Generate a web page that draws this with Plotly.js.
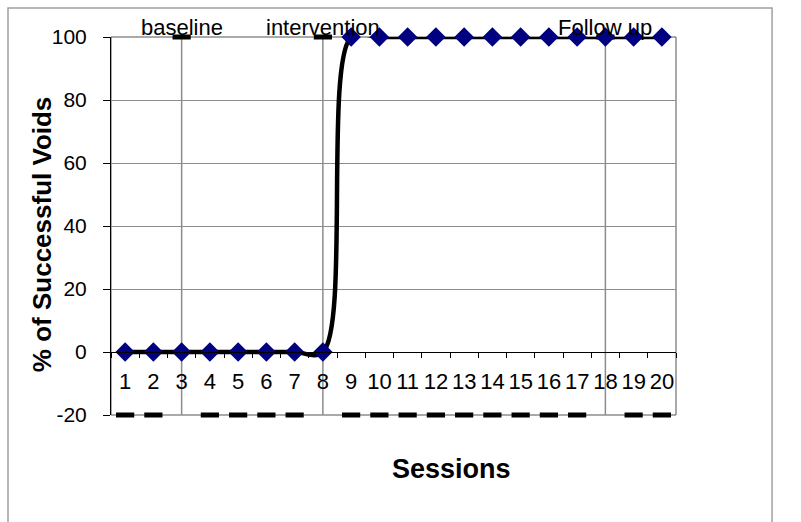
<!DOCTYPE html>
<html>
<head>
<meta charset="utf-8">
<script src="https://cdn.plot.ly/plotly-3.0.1.min.js"></script>
<style>html,body{margin:0;padding:0;background:#fff;}#chart{width:801px;height:522px;}</style>
</head>
<body>
<div id="chart"></div>
<script>
// ---- data ----
const sessions = ['1','2','3','4','5','6','7','8','9','10','11','12','13','14','15','16','17','18','19','20'];
const successPct = [0,0,0,0,0,0,0,0,100,100,100,100,100,100,100,100,100,100,100,100];
// phase-change series: 100 at phase boundaries, -20 elsewhere
const phaseMarks = [-20,-20,100,-20,-20,-20,-20,100,-20,-20,-20,-20,-20,-20,-20,-20,-20,100,-20,-20];
const phaseLabels = ['baseline','intervention','Follow up'];
const phaseLabelSessions = ['3','8','18'];
const yTicks = [-20,0,20,40,60,80,100];
const yTickText = ['-20','0','20','40','60','80','100'];
const xTitle = 'Sessions';
const yTitle = '% of Successful Voids';

const yMin = -20, yMax = 100;
const FONT = 'Liberation Sans, Arial, sans-serif';

const phaseTrace = {
  x: sessions, y: phaseMarks, type: 'scatter', mode: 'markers',
  cliponaxis: false, hoverinfo: 'skip',
  marker: {symbol: 'line-ew', size: 13, color: '#000', line: {color: '#000', width: 5}},
  error_y: {type: 'data', symmetric: false,
    array: phaseMarks.map(() => 0),
    arrayminus: phaseMarks.map(v => v - yMin),
    color: '#8c8c8c', thickness: 1.5, width: 0}
};
const mainTrace = {
  x: sessions, y: successPct, type: 'scatter', mode: 'lines+markers',
  cliponaxis: false,
  line: {color: '#000', width: 4.5, shape: 'spline', smoothing: 1},
  marker: {symbol: 'diamond', size: 15, color: '#000080', line: {width: 0}}
};

const annotations = phaseLabels.map((t, i) => ({
  text: t, x: sessions.indexOf(phaseLabelSessions[i]), y: yMax, xref: 'x', yref: 'y',
  yanchor: 'middle', xanchor: 'center', yshift: 10, showarrow: false,
  font: {family: FONT, size: 22, color: '#000'}
}));
annotations.push({
  text: '<b>' + xTitle + '</b>', xref: 'paper', yref: 'paper', x: 0.602, y: -0.143,
  xanchor: 'center', yanchor: 'middle', showarrow: false,
  font: {family: FONT, size: 27, color: '#000'}
});
annotations.push({
  text: '<b>' + yTitle + '</b>', xref: 'paper', yref: 'paper', x: -0.122, y: 0.476,
  xanchor: 'center', yanchor: 'middle', showarrow: false, textangle: -90,
  font: {family: FONT, size: 26, color: '#000'}
});

const layout = {
  width: 801, height: 522,
  margin: {l: 111, r: 125, t: 37, b: 107, pad: 0},
  paper_bgcolor: '#fff', plot_bgcolor: '#fff',
  showlegend: false,
  font: {family: FONT, color: '#000'},
  xaxis: {
    type: 'category', range: [-0.5, sessions.length - 0.5],
    anchor: 'free', position: (0 - yMin) / (yMax - yMin),
    showline: true, linecolor: '#000', linewidth: 1,
    ticks: 'outside', tickson: 'boundaries', ticklen: 5, tickcolor: '#000',
    tickangle: 0,
    showgrid: false, zeroline: false,
    tickfont: {family: FONT, size: 22, color: '#000'},
    ticklabelstandoff: 10
  },
  yaxis: {
    range: [yMin, yMax], tickvals: yTicks, ticktext: yTickText,
    showline: true, linecolor: '#000', linewidth: 1,
    ticks: 'outside', ticklen: 7, tickcolor: '#000',
    showgrid: true, gridcolor: '#8c8c8c', gridwidth: 1, zeroline: false,
    tickfont: {family: FONT, size: 21, color: '#000'},
    ticklabelstandoff: 12
  },
  annotations: annotations,
  shapes: [
    {type: 'rect', xref: 'paper', yref: 'paper', x0: 0, x1: 1, y0: 0, y1: 1,
     line: {color: '#555', width: 1}, layer: 'below'},
    {type: 'rect', xref: 'paper', yref: 'paper', x0: -0.1823, x1: 1.170, y0: -0.35, y1: 1.0767,
     line: {color: '#a0a0a0', width: 1.5}, layer: 'below'}
  ]
};

Plotly.newPlot('chart', [phaseTrace, mainTrace], layout, {staticPlot: true, displayModeBar: false});
</script>
</body>
</html>
